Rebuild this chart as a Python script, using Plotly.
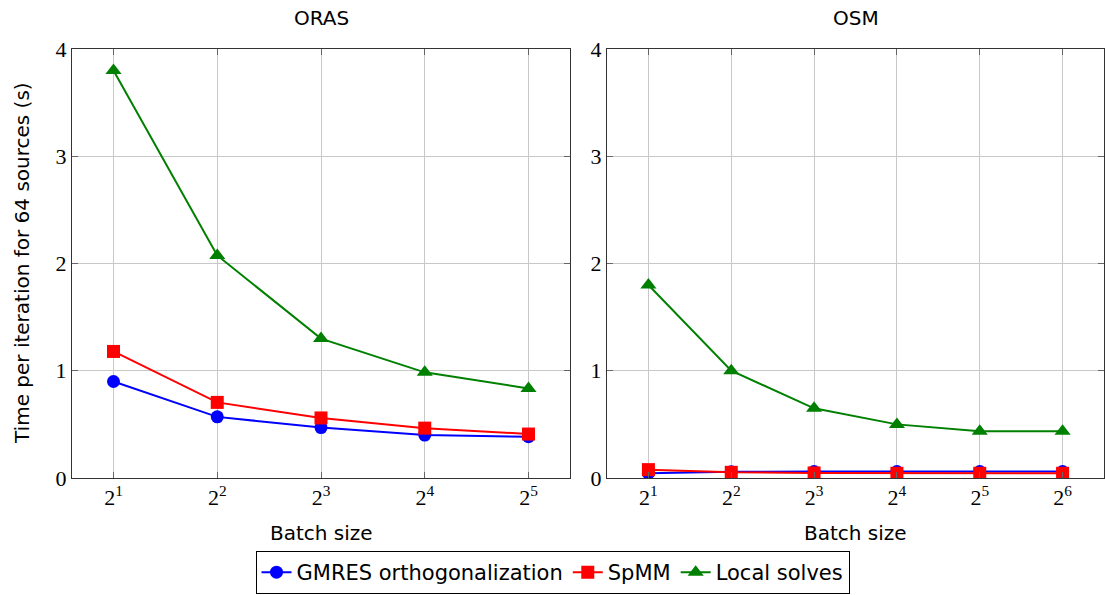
import plotly.graph_objects as go

# Data
oras_x = [1, 2, 3, 4, 5]
oras_gmres = [0.90, 0.57, 0.47, 0.40, 0.385]
oras_spmm = [1.18, 0.705, 0.56, 0.465, 0.41]
oras_local = [3.80, 2.075, 1.30, 0.985, 0.835]

osm_x = [1, 2, 3, 4, 5, 6]
osm_gmres = [0.045, 0.058, 0.06, 0.06, 0.06, 0.06]
osm_spmm = [0.078, 0.053, 0.047, 0.044, 0.044, 0.044]
osm_local = [1.80, 1.00, 0.65, 0.50, 0.435, 0.435]

series_names = ["GMRES orthogonalization", "SpMM", "Local solves"]
colors = ["#0000ff", "#ff0000", "#008000"]
symbols = ["circle", "square", "triangle-up"]

oras_ticks = ["2<sup>%d</sup>" % i for i in oras_x]
osm_ticks = ["2<sup>%d</sup>" % i for i in osm_x]

SANS = "DejaVu Sans"
SERIF = "Liberation Serif"

fig = go.Figure()

for i, (name, ys) in enumerate(zip(series_names, [oras_gmres, oras_spmm, oras_local])):
    fig.add_trace(go.Scatter(
        x=oras_x, y=ys, name=name, mode="lines+markers",
        line=dict(color=colors[i], width=2),
        marker=dict(symbol=symbols[i], size=13 if i < 2 else 14, color=colors[i]),
        xaxis="x", yaxis="y", showlegend=True))

for i, (name, ys) in enumerate(zip(series_names, [osm_gmres, osm_spmm, osm_local])):
    fig.add_trace(go.Scatter(
        x=osm_x, y=ys, name=name, mode="lines+markers",
        line=dict(color=colors[i], width=2),
        marker=dict(symbol=symbols[i], size=13 if i < 2 else 14, color=colors[i]),
        xaxis="x2", yaxis="y2", showlegend=False))

H = 595
W = 1105
y_dom = [1 - 478 / H, 1 - 49 / H]

axis_common = dict(
    showgrid=True, gridcolor="#c8c8c8", gridwidth=1,
    showline=True, linecolor="#333333", linewidth=1, mirror="allticks",
    ticks="inside", ticklen=6, tickcolor="#666666",
    tickfont=dict(family=SERIF, size=22, color="black"),
    zeroline=False, automargin=False, fixedrange=True,
)

fig.update_layout(
    width=W, height=H,
    margin=dict(l=0, r=0, t=0, b=0),
    paper_bgcolor="white", plot_bgcolor="white",
    xaxis=dict(domain=[72 / W, 570 / W], range=[0.6, 5.4],
               tickvals=oras_x, ticktext=oras_ticks, anchor="y", **axis_common),
    yaxis=dict(domain=y_dom, range=[0, 4], tickvals=[0, 1, 2, 3, 4], anchor="x", **axis_common),
    xaxis2=dict(domain=[607 / W, 1104 / W], range=[0.5, 6.5],
                tickvals=osm_x, ticktext=osm_ticks, anchor="y2", **axis_common),
    yaxis2=dict(domain=y_dom, range=[0, 4], tickvals=[0, 1, 2, 3, 4], anchor="x2", **axis_common),
    legend=dict(
        orientation="h", x=0.5, xanchor="center", y=1 - 551 / H, yanchor="top",
        bordercolor="black", borderwidth=1, bgcolor="white",
        font=dict(family=SANS, size=21, color="black"),
        itemwidth=30, tracegroupgap=0,
    ),
    showlegend=True,
)

ann = [
    dict(text="ORAS", x=(72 + 570) / 2 / W, y=1 - 18 / H),
    dict(text="OSM", x=(607 + 1104) / 2 / W, y=1 - 18 / H),
    dict(text="Batch size", x=(72 + 570) / 2 / W, y=1 - 533 / H),
    dict(text="Batch size", x=(607 + 1104) / 2 / W, y=1 - 533 / H),
]
for a in ann:
    fig.add_annotation(text=a["text"], x=a["x"], y=a["y"], xref="paper", yref="paper",
                       xanchor="center", yanchor="middle", showarrow=False,
                       font=dict(family=SANS, size=20, color="black"))
fig.add_annotation(text="Time per iteration for 64 sources (s)", x=22 / W, y=1 - 263 / H,
                   xref="paper", yref="paper", xanchor="center", yanchor="middle",
                   textangle=-90, showarrow=False,
                   font=dict(family=SANS, size=20, color="black"))

fig.write_html("out.html")
